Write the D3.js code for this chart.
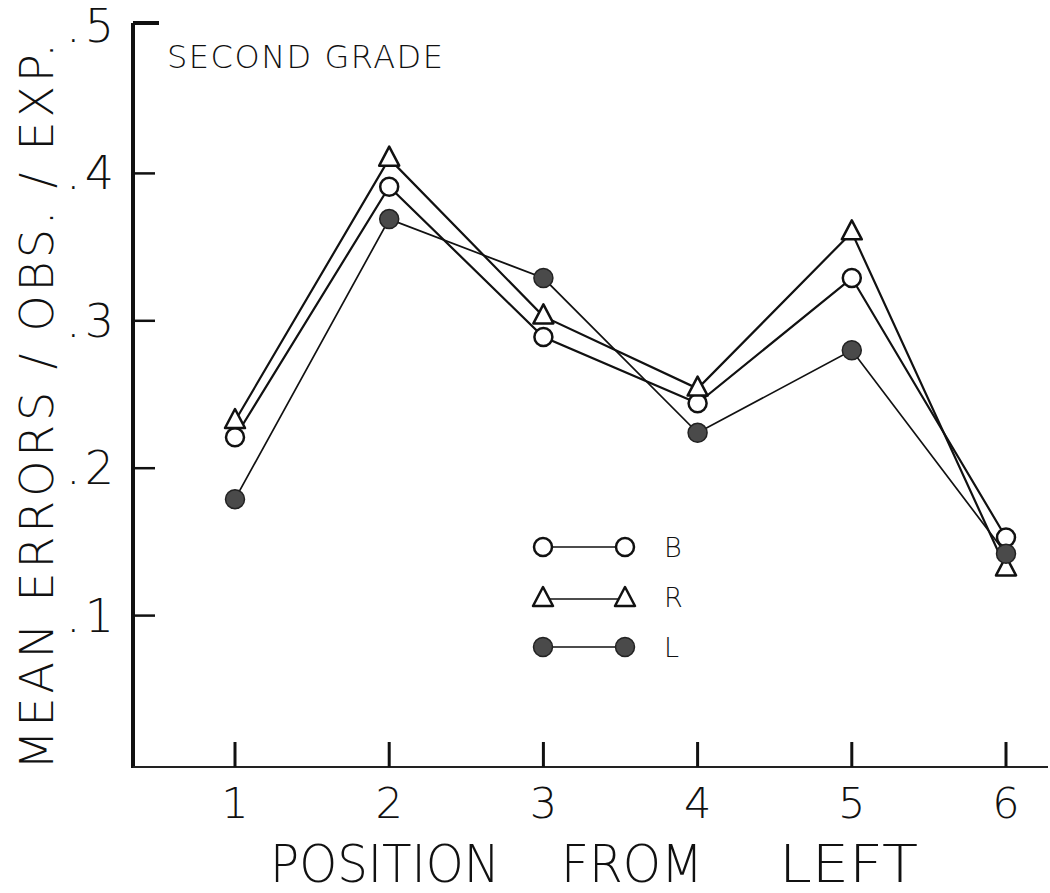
<!DOCTYPE html>
<html>
<head>
<meta charset="utf-8">
<script src="https://cdn.jsdelivr.net/npm/d3@7"></script>
<style>
  body { margin: 0; background: #fff; }
  text { font-family: "DejaVu Sans", sans-serif; font-weight: 200; fill: #111; }
</style>
</head>
<body>
<svg id="chart" width="1050" height="893"></svg>
<script>
const positions = [1, 2, 3, 4, 5, 6];
const yTicks = [0.1, 0.2, 0.3, 0.4, 0.5];
const yTickLabels = [".1", ".2", ".3", ".4", ".5"];
const seriesB = [0.221, 0.391, 0.289, 0.244, 0.329, 0.153];
const seriesR = [0.232, 0.410, 0.303, 0.254, 0.360, 0.132];
const seriesL = [0.179, 0.369, 0.329, 0.224, 0.280, 0.142];
const legendNames = ["B", "R", "L"];

const svg = d3.select("#chart");
const x = d3.scaleLinear().domain([1, 6]).range([235, 1006]);
const y = d3.scaleLinear().domain([0, 0.5]).range([763, 26]);
const axisY = 767;
const axisX = 133;

// axes
svg.append("line")
  .attr("x1", axisX).attr("x2", axisX)
  .attr("y1", y(0.5) - 3).attr("y2", axisY + 1)
  .attr("stroke", "#111").attr("stroke-width", 4);
svg.append("line")
  .attr("x1", axisX).attr("x2", 1048)
  .attr("y1", axisY).attr("y2", axisY)
  .attr("stroke", "#222").attr("stroke-width", 2.2);

// y ticks pointing inward
svg.selectAll(".ytick")
  .data(yTicks)
  .join("line")
  .attr("x1", axisX)
  .attr("x2", (d) => (d === 0.5 ? axisX + 26 : axisX + 22))
  .attr("y1", (d) => (d === 0.5 ? y(d) - 3 : y(d)))
  .attr("y2", (d) => (d === 0.5 ? y(d) - 3 : y(d)))
  .attr("stroke", "#111").attr("stroke-width", (d) => (d === 0.5 ? 4 : 2.5));

svg.selectAll(".ylab")
  .data(yTicks)
  .join("text")
  .attr("x", 118)
  .attr("y", (d) => y(d) + 16)
  .attr("text-anchor", "end")
  .attr("font-size", 46)
  .attr("letter-spacing", 4)
  .text((d, i) => yTickLabels[i]);

// x ticks pointing up
svg.selectAll(".xtick")
  .data(positions)
  .join("line")
  .attr("x1", (d) => x(d)).attr("x2", (d) => x(d))
  .attr("y1", axisY).attr("y2", axisY - 25)
  .attr("stroke", "#111").attr("stroke-width", 3);

svg.selectAll(".xlab")
  .data(positions)
  .join("text")
  .attr("x", (d) => x(d))
  .attr("y", 818)
  .attr("text-anchor", "middle")
  .attr("font-size", 43)
  .text((d) => d);

// axis titles
const xTitle = [["POSITION", 270, 230], ["FROM", 561, 142], ["LEFT", 779, 139]];
svg.selectAll(".xtitle")
  .data(xTitle)
  .join("text")
  .attr("x", (d) => d[1])
  .attr("y", 882)
  .attr("font-size", 51)
  .attr("textLength", (d) => d[2])
  .attr("lengthAdjust", "spacingAndGlyphs")
  .text((d) => d[0]);

svg.append("text")
  .attr("transform", "translate(53,770) rotate(-90)")
  .attr("font-size", 46)
  .attr("textLength", 727)
  .attr("lengthAdjust", "spacing")
  .text("MEAN ERRORS / OBS. / EXP.");

svg.append("text")
  .attr("x", 167).attr("y", 68)
  .attr("font-size", 32)
  .attr("textLength", 276)
  .attr("lengthAdjust", "spacing")
  .text("SECOND  GRADE");

// series lines
const line = d3.line().x((d, i) => x(positions[i])).y((d) => y(d));
const series = [
  { name: "B", values: seriesB, width: 2.2 },
  { name: "R", values: seriesR, width: 2.2 },
  { name: "L", values: seriesL, width: 1.7 },
];

svg.selectAll(".series")
  .data(series)
  .join("path")
  .attr("d", (d) => line(d.values))
  .attr("fill", "none")
  .attr("stroke", "#111")
  .attr("stroke-width", (d) => d.width);

const triPath = "M0,-12 L10,7 L-10,7 Z";

function drawMarker(g, name) {
  if (name === "B") {
    g.append("circle").attr("r", 9).attr("fill", "#fff")
      .attr("stroke", "#111").attr("stroke-width", 2.5);
  } else if (name === "R") {
    g.append("path").attr("d", triPath).attr("fill", "#fff")
      .attr("stroke", "#111").attr("stroke-width", 2.5)
      .attr("stroke-linejoin", "round");
  } else {
    g.append("circle").attr("r", 9.5).attr("fill", "#4a4a4a")
      .attr("stroke", "#222").attr("stroke-width", 1.5);
  }
}

series.forEach((s) => {
  s.values.forEach((v, i) => {
    const g = svg.append("g")
      .attr("transform", `translate(${x(positions[i])},${y(v)})`);
    drawMarker(g, s.name);
  });
});

// legend
const legendY = d3.scalePoint().domain(legendNames).range([547, 647]);
legendNames.forEach((name) => {
  const ly = legendY(name) + (name === "R" ? 2 : 0);
  svg.append("line")
    .attr("x1", 543).attr("x2", 625)
    .attr("y1", ly).attr("y2", ly)
    .attr("stroke", "#111").attr("stroke-width", 1.6);
  [543, 625].forEach((lx) => {
    drawMarker(svg.append("g").attr("transform", `translate(${lx},${ly})`), name);
  });
  svg.append("text")
    .attr("x", 664).attr("y", legendY(name) + 10)
    .attr("font-size", 27)
    .text(name);
});
</script>
</body>
</html>
